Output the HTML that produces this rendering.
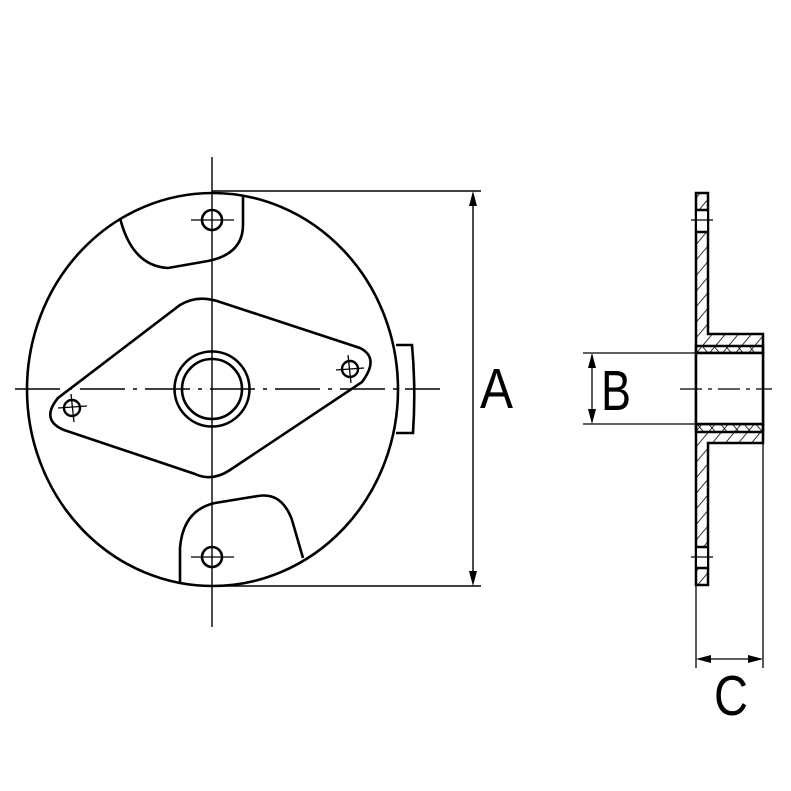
<!DOCTYPE html>
<html><head><meta charset="utf-8"><style>html,body{margin:0;padding:0;background:#fff}svg{display:block}</style></head>
<body>
<svg width="791" height="791" viewBox="0 0 791 791" xmlns="http://www.w3.org/2000/svg">
<defs>
<pattern id="h" width="10" height="10" patternUnits="userSpaceOnUse" patternTransform="rotate(40)">
<line x1="0" y1="0" x2="0" y2="10" stroke="#000" stroke-width="1.6"/>
</pattern>
<pattern id="h2" width="9" height="9" patternUnits="userSpaceOnUse" patternTransform="rotate(-40)">
<line x1="0" y1="0" x2="0" y2="9" stroke="#000" stroke-width="1.6"/>
</pattern>
</defs>
<g fill="none" stroke="#000">
<line x1="212" y1="157" x2="212" y2="627" stroke-width="1.4"/>
<line x1="15" y1="389" x2="440" y2="389" stroke-width="1.4" stroke-dasharray="45,8,4,8"/>
<ellipse cx="212.5" cy="389.5" rx="185.5" ry="196.5" stroke-width="2.6"/>
<path d="M396,345 L412,345 Q416,389 413,433 L396,433" stroke-width="2.6"/>
<path d="M120,218 Q132,266 168,268 L208,261 Q243,254 243,225 L243,195" stroke-width="2.6"/>
<path d="M180,582 L180,548 Q183,510 215,503 L258,496 Q282,492 292,520 L303,558" stroke-width="2.6"/>
<path d="M180,305 Q198,294 220,302 L360,348 Q380,358 362,382 L230,470 Q212,482 195,474 L64,430 Q40,420 58,398 Z" stroke-width="2.6"/>
<circle cx="212" cy="389" r="37.5" stroke-width="2.6"/>
<circle cx="212" cy="389" r="30" stroke-width="2.6"/>
<circle cx="212" cy="220" r="10" stroke-width="2.6"/>
<line x1="191" y1="220" x2="234" y2="220" stroke-width="1.3"/>
<circle cx="212" cy="557" r="10" stroke-width="2.6"/>
<line x1="191" y1="557" x2="234" y2="557" stroke-width="1.3"/>
<circle cx="72" cy="408" r="8" stroke-width="2.4"/>
<line x1="58" y1="408" x2="87" y2="406" stroke-width="1.3"/><line x1="71" y1="394" x2="74" y2="422" stroke-width="1.3"/>
<circle cx="350" cy="369" r="8" stroke-width="2.4"/>
<line x1="336" y1="370" x2="364" y2="368" stroke-width="1.3"/><line x1="348" y1="355" x2="351" y2="383" stroke-width="1.3"/>
<line x1="212" y1="191" x2="481" y2="191" stroke-width="1.4"/>
<line x1="226" y1="586" x2="481" y2="586" stroke-width="1.4"/>
<line x1="473" y1="205" x2="473" y2="572" stroke-width="1.4"/>
</g>
<path d="M473,191 L469,206 L477,206 Z M473,586 L469,571 L477,571 Z" fill="#000"/>
<g stroke="#000" stroke-width="2.5">
<path d="M696,193 L708,193 L708,334 L763,334 L763,443 L708,443 L708,585 L696,585 Z" fill="url(#h)"/>
<rect x="697" y="210" width="10" height="22" fill="#fff" stroke="none"/>
<rect x="697" y="547" width="10" height="21" fill="#fff" stroke="none"/>
<line x1="696" y1="210" x2="708" y2="210"/><line x1="696" y1="232" x2="708" y2="232"/>
<line x1="696" y1="547" x2="708" y2="547"/><line x1="696" y1="568" x2="708" y2="568"/>
<rect x="696" y="346" width="67" height="7" fill="url(#h2)"/>
<rect x="696" y="424" width="67" height="8" fill="url(#h2)"/>
<rect x="696" y="353" width="67" height="71" fill="#fff"/>
</g>
<g stroke="#000" stroke-width="1.3" fill="none">
<line x1="691" y1="220" x2="713" y2="220"/><line x1="691" y1="557" x2="713" y2="557"/>
<line x1="680" y1="389" x2="772" y2="389" stroke-dasharray="22,6,4,6"/>
<line x1="696" y1="585" x2="696" y2="668"/><line x1="763" y1="443" x2="763" y2="668"/>
<line x1="698" y1="659" x2="761" y2="659"/>
<line x1="583" y1="353" x2="696" y2="353"/><line x1="583" y1="424" x2="696" y2="424"/>
<line x1="592" y1="355" x2="592" y2="422"/>
</g>
<path d="M696,659 L711,655 L711,663 Z M763,659 L748,655 L748,663 Z M592,353 L588,368 L596,368 Z M592,424 L588,409 L596,409 Z" fill="#000"/>
<g font-family="Liberation Sans, sans-serif" font-size="57" fill="#000">
<text x="480" y="408" textLength="33" lengthAdjust="spacingAndGlyphs">A</text>
<text x="601" y="410" textLength="30" lengthAdjust="spacingAndGlyphs">B</text>
<text x="714" y="715" textLength="34" lengthAdjust="spacingAndGlyphs">C</text>
</g>
</svg>
</body></html>
